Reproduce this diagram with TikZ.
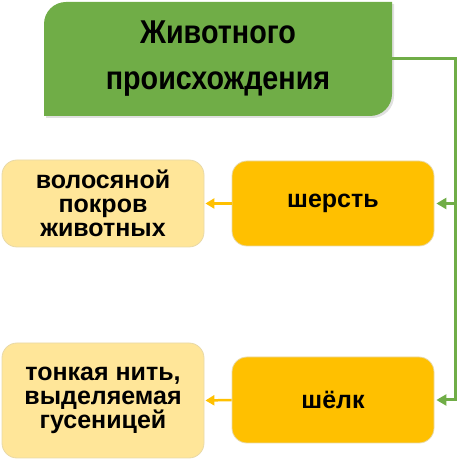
\documentclass[tikz,border=0pt]{standalone}
\usepackage{fontspec}
\usepackage{graphicx}
\setmainfont{Liberation Sans}
\usetikzlibrary{arrows.meta}
\definecolor{grn}{HTML}{70AD47}
\definecolor{gold}{HTML}{FFC000}
\definecolor{lgold}{HTML}{FFE699}
\definecolor{edge}{HTML}{E8D9A8}
\newcommand{\narrowtext}[1]{\scalebox{0.87}[1]{#1}}
\begin{document}
\begin{tikzpicture}[x=1pt,y=1pt,
  box/.style={rectangle, rounded corners=15pt, draw=edge, line width=0.8pt,
    minimum width=202pt, inner sep=0pt, align=center,
    font=\fontsize{25}{24}\selectfont\bfseries},
  mainbox/.style={box, fill=gold, minimum height=85pt},
  descbox/.style={box, fill=lgold},
  titlebox/.style={rectangle, minimum width=348pt, minimum height=114pt, inner sep=0pt,
    align=center, font=\fontsize{33}{46}\selectfont\bfseries},
  gline/.style={draw=grn, line width=3pt},
  yline/.style={draw=gold, line width=2.5pt},
  tipg/.style={-{Triangle[length=10pt,width=11pt]}, shorten >=2pt},
  tipy/.style={-{Triangle[length=9pt,width=10pt]}, shorten >=1pt},
  shadow/.style={fill=black, opacity=0.12}
]
\useasboundingbox (0,0) rectangle (459,460);
% title shape with shadow
\fill[shadow] (46,342) -- (46,434) arc[start angle=180,end angle=90,radius=22] -- (394,456) -- (394,364) arc[start angle=0,end angle=-90,radius=22] -- cycle;
\fill[grn] (44,344) -- (44,436) arc[start angle=180,end angle=90,radius=22] -- (392,458) -- (392,366) arc[start angle=0,end angle=-90,radius=22] -- cycle;
\node[titlebox] (title) at (218,401) {\narrowtext{Животного}\\\narrowtext{происхождения}};

\node[mainbox] (wool) at (333,256.5) {шерсть};
\node[descbox, minimum height=87pt] (wooldesc) at (103,256.5) {волосяной\\покров\\животных};
\node[mainbox, minimum height=86pt] (silk) at (333,60) {шёлк};
\node[descbox, minimum height=115pt] (silkdesc) at (103,59.5) {тонкая нить,\\выделяемая\\гусеницей};

\coordinate (rail) at (455,0);
\draw[gline, tipg] (title.east) -| (rail |- silk.east) -- (silk.east);
\draw[gline, tipg] (rail |- wool.east) -- (wool.east);
\draw[yline, tipy] (wool.west) -- (wooldesc.east);
\draw[yline, tipy] (silk.west) -- (silkdesc.east);
\end{tikzpicture}
\end{document}
